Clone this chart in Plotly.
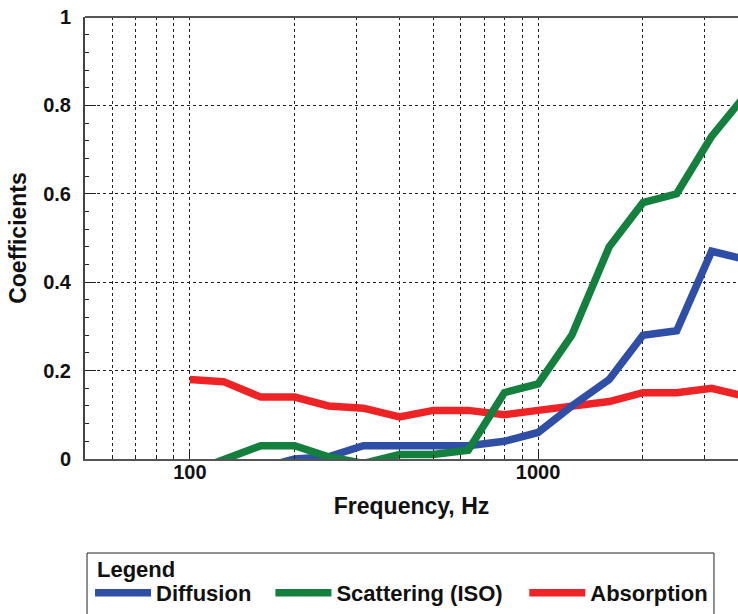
import plotly.graph_objects as go
import math

# Data (1/3-octave band centre frequencies)
freq = [100, 125, 160, 200, 250, 315, 400, 500, 630, 800, 1000, 1250, 1600, 2000, 2500, 3150, 4000]
diffusion = [None, None, -0.02, 0.0, 0.005, 0.03, 0.03, 0.03, 0.03, 0.04, 0.06, 0.12, 0.18, 0.28, 0.29, 0.47, 0.45]
scattering = [-0.03, 0.0, 0.03, 0.03, 0.005, -0.01, 0.01, 0.01, 0.02, 0.15, 0.17, 0.28, 0.48, 0.58, 0.60, 0.73, 0.83]
absorption = [0.18, 0.175, 0.14, 0.14, 0.12, 0.115, 0.095, 0.11, 0.11, 0.10, 0.11, 0.12, 0.13, 0.15, 0.15, 0.16, 0.14]

x_major = [100, 1000]
x_major_text = ["100", "1000"]
x_minor = [60, 70, 80, 90, 200, 300, 400, 500, 600, 700, 800, 900, 2000, 3000]
y_major = [0, 0.2, 0.4, 0.6, 0.8, 1]
y_major_text = ["0", "0.2", "0.4", "0.6", "0.8", "1"]

BLUE = "#2f4fa6"
GREEN = "#14803e"
RED = "#ee2326"
FONT = "Liberation Sans, Arial, sans-serif"
NB = "\u00a0"

fig = go.Figure()
fig.add_trace(go.Scatter(x=freq, y=absorption, mode="lines", name="Absorption",
                         line=dict(color=RED, width=7.5), legendrank=3))
fig.add_trace(go.Scatter(x=freq, y=diffusion, mode="lines", name="Diffusion" + NB * 2 + "\u200a",
                         line=dict(color=BLUE, width=7.5), legendrank=1, connectgaps=False))
fig.add_trace(go.Scatter(x=freq, y=scattering, mode="lines", name="Scattering (ISO)" + NB * 2 + "\u2009",
                         line=dict(color=GREEN, width=7.5), legendrank=2))

grid_col = "#222222"
fig.update_xaxes(
    type="log",
    range=[math.log10(50), math.log10(3750)],
    tickvals=x_major, ticktext=x_major_text,
    ticks="inside", ticklen=8, tickcolor="#222", tickwidth=1,
    showgrid=True, gridcolor=grid_col, griddash="dot", gridwidth=1,
    minor=dict(tickvals=x_minor, ticks="inside", ticklen=4, tickcolor="#222",
               showgrid=True, gridcolor=grid_col, griddash="dot", gridwidth=1),
    showline=True, linecolor="#555", linewidth=2,
    zeroline=False, automargin=False,
    tickfont=dict(family=FONT, size=20, color="#111", weight="bold"),
    title=dict(text="Frequency, Hz", font=dict(family=FONT, size=23, color="#111", weight="bold"),
               standoff=16),
    ticklabelstandoff=-6, ticklabeloverflow="allow",
)
fig.update_yaxes(
    range=[0, 1],
    tickvals=y_major, ticktext=y_major_text,
    ticks="inside", ticklen=11, tickcolor="#222", tickwidth=1,
    showgrid=True, gridcolor=grid_col, griddash="dot", gridwidth=1,
    minor=dict(dtick=0.04, ticks="inside", ticklen=4, tickcolor="#222", showgrid=False),
    showline=True, linecolor="#444", linewidth=2,
    zeroline=False, automargin=False,
    tickfont=dict(family=FONT, size=20, color="#111", weight="bold"),
    title=dict(text="Coefficients", font=dict(family=FONT, size=23, color="#111", weight="bold"),
               standoff=10),
    ticklabelstandoff=8, ticklabeloverflow="allow",
)

# top border of the plot frame
fig.add_shape(type="line", xref="paper", yref="paper", x0=0, x1=1, y0=1, y1=1,
              line=dict(color="#555", width=2))
# legend frame (runs off the bottom of the window, as in the reference)
fig.add_shape(type="rect", xref="paper", yref="paper", x0=0.0031, x1=0.9632, y0=-0.2127, y1=-0.43,
              line=dict(color="#222", width=1), fillcolor="rgba(0,0,0,0)")
fig.add_annotation(text="Legend", xref="paper", yref="paper", x=0.0153, y=-0.2511,
                   xanchor="left", yanchor="middle", showarrow=False,
                   font=dict(family=FONT, size=22, color="#111", weight="bold"))

fig.update_layout(
    width=738, height=650,
    margin=dict(l=85, r=0, t=17, b=191),
    plot_bgcolor="white", paper_bgcolor="white",
    showlegend=True,
    legend=dict(
        orientation="h", x=0.0077, xanchor="left", y=-0.3032, yanchor="middle",
        borderwidth=0, bgcolor="rgba(0,0,0,0)",
        font=dict(family=FONT, size=22, color="#111", weight="bold"),
        itemwidth=56, tracegroupgap=0,
    ),
)

# remove the default 8px page margin so the figure sits at the window's top-left
fig.write_html("out.html", config={"displayModeBar": False},
               post_script="document.body.style.margin='0';")
